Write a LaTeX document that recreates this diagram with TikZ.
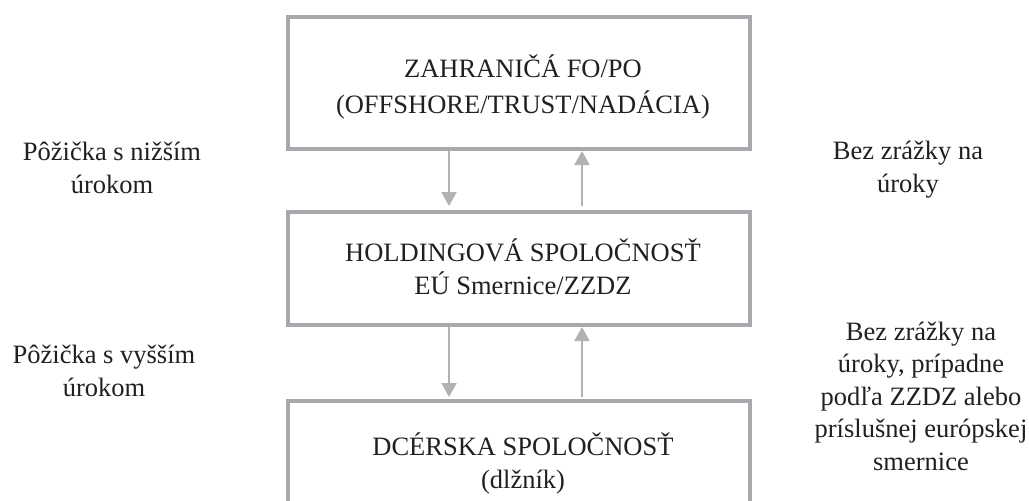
\documentclass[tikz,border=0pt]{standalone}
\usepackage{fontspec}
\setmainfont{Liberation Serif}
\usetikzlibrary{arrows.meta}
\definecolor{boxgray}{HTML}{A7A9AC}
\definecolor{arrgray}{HTML}{B1B2B5}
\definecolor{ink}{HTML}{231F20}
\begin{document}
\begin{tikzpicture}[x=1pt,y=-1pt,
  box/.style={draw=boxgray, line width=4pt, minimum width=462pt, inner sep=0pt, line join=miter},
  lbl/.style={text=ink, font=\fontsize{26.5pt}{32.5pt}\selectfont, align=center, anchor=base, inner sep=0pt},
  toplbl/.style={lbl, font=\fontsize{26.5pt}{36pt}\selectfont},
  arr/.style={draw=arrgray, line width=2pt, -{Triangle[length=14pt,width=15pt]}}]
\useasboundingbox (0,0) rectangle (1029,501);
\clip (0,0) rectangle (1029,501);
% boxes
\node[box, minimum height=132pt] (top) at (519,83) {};
\node[box, minimum height=113pt] (mid) at (519,268.5) {};
\node[box, minimum height=159pt] (bot) at (519,480.5) {};
% box texts (anchor base = baseline of last line)
\node[toplbl] (topt) at (523,113) {ZAHRANIČÁ FO/PO\\(OFFSHORE/TRUST/NADÁCIA)};
\node[lbl] (midt) at (523,294) {HOLDINGOVÁ SPOLOČNOSŤ\\EÚ Smernice/ZZDZ};
\node[lbl] (bott) at (523,488) {DCÉRSKA SPOLOČNOSŤ\\(dlžník)};
% side labels
\node[lbl] (l1) at (112,193) {Pôžička s nižším\\úrokom};
\node[lbl] (l2) at (104,396) {Pôžička s vyšším\\úrokom};
\node[lbl] (r1) at (908,192) {Bez zrážky na\\úroky};
\node[lbl] (r2) at (921,470) {Bez zrážky na\\úroky, prípadne\\podľa ZZDZ alebo\\príslušnej európskej\\smernice};
% arrows
\coordinate (dn) at (449,0);
\coordinate (up) at (582,0);
\draw[arr, shorten >=4pt] (top.south -| dn) -- (mid.north -| dn);
\draw[arr, shorten <=4pt] (mid.north -| up) -- (top.south -| up);
\draw[arr, shorten >=2pt] (mid.south -| dn) -- (bot.north -| dn);
\draw[arr, shorten <=2pt] (bot.north -| up) -- (mid.south -| up);
\end{tikzpicture}
\end{document}
